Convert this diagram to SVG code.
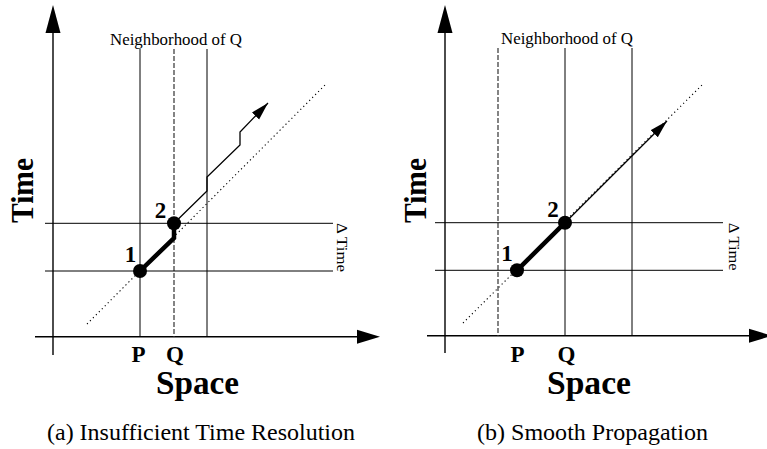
<svg xmlns="http://www.w3.org/2000/svg" width="767" height="449" viewBox="0 0 767 449">
<style>
.ax{stroke:#000;stroke-width:1.4;fill:none}
.g{stroke:#000;stroke-width:1;fill:none}
.gd{stroke:#333;stroke-width:1.2;fill:none;stroke-dasharray:5 2}
.dot{stroke:#000;stroke-width:1.1;fill:none;stroke-dasharray:1.2 3}
.thick{stroke:#000;stroke-width:4.5;fill:none;stroke-linejoin:miter}
.thin{stroke:#000;stroke-width:1.3;fill:none;marker-end:url(#ah)}
.hd{fill:#000}
.pt{fill:#000}
text{font-family:'Liberation Serif','Times New Roman',Times,serif;fill:#000}
.b{font-weight:bold}
</style>
<defs>
<marker id="ah" markerUnits="userSpaceOnUse" markerWidth="20" markerHeight="12" refX="18" refY="5" orient="auto">
<path d="M0,0 L18,5 L0,10 z" fill="#000"/>
</marker>
</defs>
<rect width="767" height="449" fill="#fff"/>

<g id="panel-a" font-family="Liberation Serif, serif">
<g id="axes-a">
<line class="ax" x1="53" y1="30" x2="53" y2="355"/>
<polygon class="hd" points="53,5 45.5,33 60.5,33"/>
<line class="ax" x1="35" y1="336.7" x2="360" y2="336.7"/>
<polygon class="hd" points="380,336.7 357,329.7 357,343.7"/>
</g>
<g id="grid-a">
<line class="g" x1="140" y1="49" x2="140" y2="337"/>
<line class="gd" x1="174" y1="49" x2="174" y2="337"/>
<line class="g" x1="207" y1="49" x2="207" y2="337"/>
<line class="g" x1="45" y1="223.3" x2="333" y2="223.3"/>
<line class="g" x1="45" y1="271" x2="333" y2="271"/>
<line class="dot" x1="87" y1="324" x2="325" y2="85"/>
</g>
<g id="connectors-a">
<polyline class="thick" points="140,271 174,238 174,223.3"/>
<polyline class="thin" points="174,223.3 207,191 207,177 240,145 240,132 268,103"/>
</g>
<g id="node-a1"><circle class="pt" cx="140" cy="271" r="7"/><text class="b" x="130.5" y="262" font-size="23" text-anchor="middle">1</text></g>
<g id="node-a2"><circle class="pt" cx="174" cy="223.3" r="7"/><text class="b" x="160.5" y="218" font-size="23" text-anchor="middle">2</text></g>
<text x="110" y="44.5" font-size="17" textLength="132" lengthAdjust="spacingAndGlyphs">Neighborhood of Q</text>
<text font-size="14" transform="translate(337,223) rotate(90)" textLength="49" lengthAdjust="spacingAndGlyphs">Δ Time</text>
<text class="b" font-size="32" transform="translate(33,223) rotate(-90)" textLength="65" lengthAdjust="spacingAndGlyphs">Time</text>
<text class="b" x="138.5" y="362" font-size="23" text-anchor="middle">P</text>
<text class="b" x="175" y="362" font-size="23" text-anchor="middle">Q</text>
<text class="b" x="156" y="394" font-size="33" textLength="83" lengthAdjust="spacingAndGlyphs">Space</text>
<text x="47" y="440" font-size="24" textLength="308" lengthAdjust="spacingAndGlyphs">(a) Insufficient Time Resolution</text>
</g>

<g id="panel-b">
<g id="axes-b">
<line class="ax" x1="445" y1="30" x2="445" y2="353"/>
<polygon class="hd" points="445,5 437.5,33 452.5,33"/>
<line class="ax" x1="427" y1="335.7" x2="752" y2="335.7"/>
<polygon class="hd" points="772,335.7 749,328.7 749,342.7"/>
</g>
<g id="grid-b">
<line class="gd" x1="498" y1="48" x2="498" y2="336"/>
<line class="g" x1="565" y1="48" x2="565" y2="336"/>
<line class="g" x1="632" y1="48" x2="632" y2="336"/>
<line class="g" x1="435" y1="222.7" x2="723" y2="222.7"/>
<line class="g" x1="435" y1="270.3" x2="723" y2="270.3"/>
<line class="dot" x1="463" y1="323" x2="702" y2="85"/>
</g>
<g id="connectors-b">
<line class="thick" x1="517" y1="270.3" x2="565" y2="222.7"/>
<line class="thin" x1="565" y1="222.7" x2="667" y2="121"/>
</g>
<g id="node-b1"><circle class="pt" cx="517" cy="270.3" r="7"/><text class="b" x="507" y="261" font-size="23" text-anchor="middle">1</text></g>
<g id="node-b2"><circle class="pt" cx="565" cy="222.7" r="7"/><text class="b" x="553" y="217" font-size="23" text-anchor="middle">2</text></g>
<text x="501" y="43.5" font-size="17" textLength="132" lengthAdjust="spacingAndGlyphs">Neighborhood of Q</text>
<text font-size="14" transform="translate(729,222.7) rotate(90)" textLength="48" lengthAdjust="spacingAndGlyphs">Δ Time</text>
<text class="b" font-size="32" transform="translate(426,223) rotate(-90)" textLength="65" lengthAdjust="spacingAndGlyphs">Time</text>
<text class="b" x="517.5" y="362" font-size="23" text-anchor="middle">P</text>
<text class="b" x="566.5" y="362" font-size="23" text-anchor="middle">Q</text>
<text class="b" x="547" y="394" font-size="33" textLength="84" lengthAdjust="spacingAndGlyphs">Space</text>
<text x="477" y="440" font-size="24" textLength="231" lengthAdjust="spacingAndGlyphs">(b) Smooth Propagation</text>
</g>
</svg>
